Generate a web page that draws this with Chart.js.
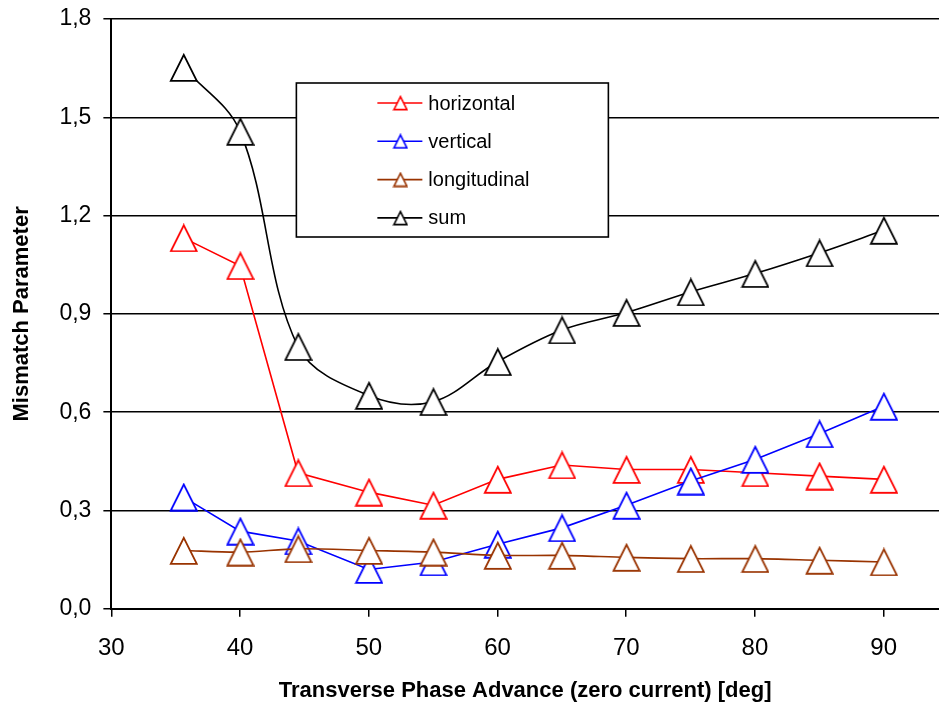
<!DOCTYPE html>
<html>
<head>
<meta charset="utf-8">
<title>Mismatch Parameter</title>
<script src="https://cdn.jsdelivr.net/npm/chart.js@4/dist/chart.umd.min.js"></script>
<style>
  html, body { margin: 0; padding: 0; background: #fff; }
  #chart { display: block; }
</style>
</head>
<body>
<canvas id="chart" width="939" height="704"></canvas>
<script>
// phase advance values (deg)
const phaseAdvance = [35.6, 40, 44.5, 50, 55, 60, 65, 70, 75, 80, 85, 90];

// mismatch
const horizontal   = [1.132, 1.047, 0.415, 0.356, 0.316, 0.395, 0.439, 0.425, 0.425, 0.415, 0.405, 0.395];
const vertical     = [0.341, 0.237, 0.207, 0.120, 0.143, 0.197, 0.247, 0.316, 0.390, 0.456, 0.534, 0.618];
const longitudinal = [0.178, 0.173, 0.183, 0.178, 0.173, 0.163, 0.163, 0.157, 0.153, 0.153, 0.148, 0.143];
const sum          = [1.652, 1.457, 0.800, 0.651, 0.632, 0.754, 0.851, 0.904, 0.967, 1.023, 1.086, 1.155];

const seriesNames  = ['horizontal', 'vertical', 'longitudinal', 'sum'];
const seriesColors = ['#ff0000', '#0000ff', '#993300', '#000000'];
const yTicks = [0, 0.3, 0.6, 0.9, 1.2, 1.5, 1.8];
const xTicks = [30, 40, 50, 60, 70, 80, 90];

const FONT = "'Liberation Sans', Arial, sans-serif";

// excel-like hollow triangle, centred in its box
function triangle(color, size, lw) {
  const c = document.createElement('canvas');
  const w = size + lw * 2;
  c.width = w; c.height = w;
  const g = c.getContext('2d');
  g.beginPath();
  g.moveTo(w / 2, lw);
  g.lineTo(w - lw, w - lw);
  g.lineTo(lw, w - lw);
  g.closePath();
  g.fillStyle = '#fff';
  g.fill();
  g.lineWidth = lw;
  g.strokeStyle = color;
  g.lineJoin = 'miter';
  g.stroke();
  return c;
}

const toPoints = (ys) => phaseAdvance.map((x, i) => ({ x: x, y: ys[i] }));
const values = [horizontal, vertical, longitudinal, sum];
const tensions = [0, 0, 0.3, 0.35];

// later series are painted on top, so list them reversed
const datasets = values.map((ys, i) => ({
  label: seriesNames[i],
  data: toPoints(ys),
  borderColor: seriesColors[i],
  borderWidth: 1.6,
  tension: tensions[i],
  pointStyle: triangle(seriesColors[i], 26, 1.8),
  pointRadius: 13,
  fill: false,
})).reverse();

const legendBox = {
  id: 'legendBox',
  afterDraw(chart) {
    const ctx = chart.ctx;
    const a = chart.chartArea;
    const x = a.left + 185, y = a.top + 64, w = 312, h = 154;
    ctx.save();
    ctx.fillStyle = '#fff';
    ctx.fillRect(x, y, w, h);
    ctx.strokeStyle = '#000';
    ctx.lineWidth = 1.6;
    ctx.strokeRect(x, y, w, h);
    ctx.font = '20px ' + FONT;
    ctx.textBaseline = 'middle';
    seriesNames.forEach((name, i) => {
      const ry = y + 20 + i * 38.3;
      ctx.strokeStyle = seriesColors[i];
      ctx.lineWidth = 1.6;
      ctx.beginPath();
      ctx.moveTo(x + 81, ry);
      ctx.lineTo(x + 126, ry);
      ctx.stroke();
      const m = triangle(seriesColors[i], 13, 1.6);
      ctx.drawImage(m, x + 104 - m.width / 2, ry - m.height / 2);
      ctx.fillStyle = '#000';
      ctx.fillText(name, x + 132, ry + 1);
    });
    ctx.restore();
  }
};

new Chart(document.getElementById('chart'), {
  type: 'line',
  data: { datasets: datasets },
  plugins: [legendBox],
  options: {
    responsive: false,
    animation: false,
    layout: { autoPadding: false, padding: { top: 19, right: 0, left: 9, bottom: 0 } },
    plugins: {
      legend: { display: false },
      tooltip: { enabled: false },
    },
    scales: {
      x: {
        type: 'linear',
        min: 30,
        max: 94.3,
        afterBuildTicks: (axis) => {
          axis.ticks = xTicks.map((v) => ({ value: v }));
        },
        afterFit: (axis) => {
          axis.paddingLeft = 0;
          axis.paddingRight = 0;
        },
        grid: {
          drawOnChartArea: false,
          drawTicks: true,
          tickLength: 8,
          color: '#000',
          lineWidth: 1.5,
        },
        border: { color: '#000', width: 2 },
        ticks: {
          color: '#000',
          padding: 17,
          maxRotation: 0,
          font: { family: FONT, size: 24 },
        },
        title: {
          display: true,
          text: 'Transverse Phase Advance (zero current) [deg]',
          color: '#000',
          font: { family: FONT, size: 22, weight: 'bold' },
          padding: { top: -2, bottom: 0 },
        },
      },
      y: {
        min: 0,
        max: 1.8,
        afterBuildTicks: (axis) => {
          axis.ticks = yTicks.map((v) => ({ value: v }));
        },
        afterFit: (axis) => {
          axis.paddingTop = 0;
          axis.paddingBottom = 0;
        },
        grid: {
          color: '#000',
          lineWidth: 1.5,
          tickLength: 8,
        },
        border: { color: '#000', width: 2 },
        ticks: {
          color: '#000',
          padding: 12,
          font: { family: FONT, size: 23 },
          callback: (v) => Number(v).toFixed(1).replace('.', ','),
        },
        title: {
          display: true,
          text: 'Mismatch Parameter',
          color: '#000',
          font: { family: FONT, size: 22, weight: 'bold' },
          padding: { top: 0, bottom: 12 },
        },
      },
    },
  },
});
</script>
</body>
</html>
